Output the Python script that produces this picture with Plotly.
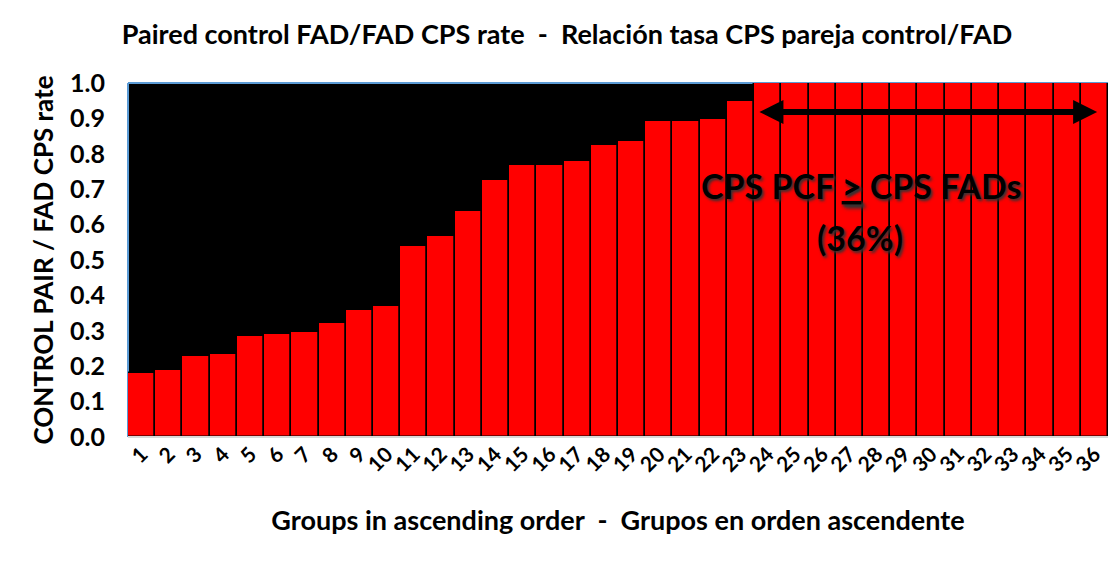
import plotly.graph_objects as go

groups = list(range(1, 37))
rates = [0.18, 0.19, 0.229, 0.234, 0.285, 0.29, 0.297, 0.322, 0.36, 0.37,
         0.54, 0.568, 0.638, 0.726, 0.768, 0.768, 0.78, 0.825, 0.836, 0.893,
         0.893, 0.898, 0.949] + [1.0] * 13
y_ticks = [0.0, 0.1, 0.2, 0.3, 0.4, 0.5, 0.6, 0.7, 0.8, 0.9, 1.0]

title_text = "Paired control FAD/FAD CPS rate  -  Relación tasa CPS pareja control/FAD"
x_title = "Groups in ascending order  -  Grupos en orden ascendente"
y_title = "CONTROL PAIR / FAD CPS rate"
note_line1 = "CPS PCF <u>></u> CPS FADs"
note_line2 = "(36%)"
arrow_start, arrow_end, arrow_y = 23.64, 36.1, 0.918

FONT = "Lato"

fig = go.Figure()
fig.add_trace(go.Bar(
    x=groups, y=rates,
    marker=dict(color="#FF0000", line=dict(color="#000000", width=1.5)),
    hoverinfo="x+y",
))

fig.update_layout(
    width=1114, height=563,
    paper_bgcolor="white", plot_bgcolor="black",
    margin=dict(l=128, r=6, t=83, b=126),
    bargap=0,
    showlegend=False,
    font=dict(family=FONT, color="black"),
    title=dict(text="<b>" + title_text + "</b>", x=0.509, xanchor="center",
               y=0.938, yanchor="middle", font=dict(size=27, family=FONT, color="black")),
    xaxis=dict(
        range=[0.5, 36.5], tickmode="array", tickvals=groups,
        ticktext=["<b>%d</b>" % g for g in groups],
        tickangle=-45, tickfont=dict(size=21, family=FONT, color="black"),
        showgrid=False, zeroline=False, showline=False, ticks="",
        automargin=False,
        title=dict(text="<b>" + x_title + "</b>", font=dict(size=27, family=FONT, color="black"),
                   standoff=36),
        layer="below traces",
    ),
    yaxis=dict(
        range=[0, 1.0], tickmode="array", tickvals=y_ticks,
        ticktext=["<b>%.1f</b>" % v for v in y_ticks],
        tickfont=dict(size=25, family=FONT, color="black"),
        showgrid=False, zeroline=False, showline=False, ticks="",
        ticklabelstandoff=22, automargin=False,
        title=dict(text="<b>" + y_title + "</b>", font=dict(size=26, family=FONT, color="black"),
                   standoff=8),
        layer="below traces",
    ),
    shapes=[
        dict(type="line", xref="paper", yref="paper", x0=0, x1=1, y0=1, y1=1,
             line=dict(color="#5B9BD5", width=2), layer="below"),
        dict(type="line", xref="paper", yref="paper", x0=0, x1=0, y0=0, y1=1,
             line=dict(color="#5B9BD5", width=2), layer="below"),
        dict(type="line", xref="paper", yref="paper", x0=0, x1=1, y0=0, y1=0,
             line=dict(color="#D9D9D9", width=2), layer="above"),
    ],
    annotations=[
        dict(x=arrow_end, y=arrow_y, ax=arrow_start, ay=arrow_y,
             xref="x", yref="y", axref="x", ayref="y",
             text="", showarrow=True, arrowside="end+start",
             arrowhead=2, startarrowhead=2, arrowsize=0.8, startarrowsize=0.8,
             arrowwidth=6, arrowcolor="black", standoff=0, startstandoff=0),
        dict(x=27.43, y=0.71, xref="x", yref="y", showarrow=False,
             text="<b>" + note_line1 + "</b>",
             font=dict(size=34, family=FONT, color="black", shadow="2px 2px 3px #333333")),
        dict(x=27.4, y=0.563, xref="x", yref="y", showarrow=False,
             text="<b>" + note_line2 + "</b>",
             font=dict(size=34, family=FONT, color="black", shadow="2px 2px 3px #333333")),
    ],
)

fig.write_html("out.html", config={"displayModeBar": False},
               post_script="document.body.style.margin='0';document.body.style.overflow='hidden';")
